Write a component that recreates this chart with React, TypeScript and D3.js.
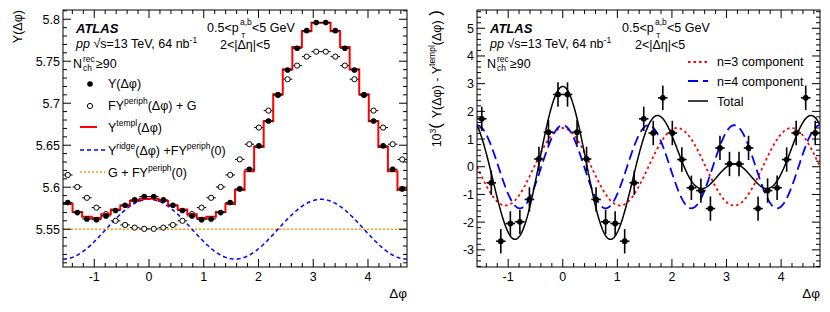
import React from "react";
import * as d3 from "d3";

const PI = Math.PI;
const N_BINS = 36;

// Y(Δφ), 36 bins of width π/18 from -π/2 to 3π/2
const yData = [
  5.5817, 5.5698, 5.5622, 5.5614, 5.5658, 5.5722, 5.5786, 5.5849, 5.5888,
  5.5888, 5.5849, 5.5786, 5.5722, 5.5658, 5.5614, 5.5622, 5.5698, 5.5817,
  5.598, 5.6214, 5.6492, 5.6789, 5.7099, 5.7396, 5.7655, 5.7864, 5.796,
  5.796, 5.7864, 5.7655, 5.7396, 5.7099, 5.6789, 5.6492, 5.6214, 5.598,
];
// F Y^periph(Δφ) + G
const periphData = [
  5.6146, 5.6003, 5.5874, 5.5757, 5.5679, 5.56, 5.5551, 5.5519, 5.5504,
  5.5504, 5.5519, 5.5551, 5.56, 5.5679, 5.5757, 5.5874, 5.6003, 5.6146,
  5.6331, 5.6512, 5.671, 5.6912, 5.7099, 5.7286, 5.7448, 5.7555, 5.7614,
  5.7614, 5.7555, 5.7448, 5.7286, 5.7099, 5.6912, 5.671, 5.6512, 5.6331,
];
// 10^3 (Y - Y^templ)
const residual = [
  1.73, -0.58, -2.69, -2.05, -1.99, -1.18, 0.28, 1.25, 2.61,
  2.61, 1.25, 0.28, -1.18, -1.99, -2.05, -2.69, -0.58, 1.73,
  1.22, 2.49, 1.22, 0.26, -0.76, -0.86, -1.51, 0.68, 0.1,
  0.1, 0.68, -1.51, -0.86, -0.76, 0.26, 1.22, 2.49, 1.22,
];
const RES_ERR = 0.44;

// fit parameters
const G_PLUS_FY0 = 5.55;
const RIDGE_AMP2 = 0.0356;
const AMP3 = 1.4;
const AMP4 = 1.5;

const xTicks = [-1, 0, 1, 2, 3, 4];
const yTicksL = [5.55, 5.6, 5.65, 5.7, 5.75, 5.8];
const yTicksR = [-3, -2, -1, 0, 1, 2, 3, 4, 5];

const FONT = "'Liberation Sans', Arial, Helvetica, sans-serif";
const FS = 12.5;
const SFS = 8.5;

const binEdges = d3.range(N_BINS + 1).map((i) => -PI / 2 + (i * PI) / 18);
const binCenters = d3.range(N_BINS).map((i) => -PI / 2 + ((i + 0.5) * PI) / 18);
const phis = d3.range(-PI / 2, (3 * PI) / 2 + 0.005, 0.01);
const templ = yData.map((v, i) => v - residual[i] / 1000);

const xL = d3.scaleLinear().domain([-PI / 2, (3 * PI) / 2]).range([63, 407]);
const yL = d3.scaleLinear().domain([5.505, 5.811]).range([267, 10]);
const xR = d3.scaleLinear().domain([-PI / 2, (3 * PI) / 2]).range([477, 820]);
const yR = d3.scaleLinear().domain([-3.62, 5.66]).range([267, 10]);

const xMinor = d3.range(-7, 24).map((k) => k * 0.2);
const yMinorL = d3.range(551, 582).map((k) => k / 100);
const yMinorR = d3.range(-18, 29).map((k) => k / 5);

function Frame({ x, y, yMajor, yMinor }: any) {
  const [x0, x1] = x.range();
  const [y1, y0] = y.range();
  return (
    <g>
      <g stroke="#000" strokeWidth={1}>
        <rect x={x0} y={y0} width={x1 - x0} height={y1 - y0} fill="none" />
        {xMinor.map((v) => {
          const len = Math.abs(v - Math.round(v)) < 1e-6 ? 8 : 4;
          return (
            <g key={"x" + v}>
              <line x1={x(v)} x2={x(v)} y1={y1} y2={y1 - len} />
              <line x1={x(v)} x2={x(v)} y1={y0} y2={y0 + len} />
            </g>
          );
        })}
        {yMinor.map((v: number) => {
          const len = yMajor.some((m: number) => Math.abs(m - v) < 1e-6) ? 8 : 4;
          return (
            <g key={"y" + v}>
              <line x1={x0} x2={x0 + len} y1={y(v)} y2={y(v)} />
              <line x1={x1} x2={x1 - len} y1={y(v)} y2={y(v)} />
            </g>
          );
        })}
      </g>
      <g fontSize={FS} fill="#000">
        {xTicks.map((v) => (
          <text key={"xl" + v} x={x(v)} y={281} textAnchor="middle">
            {v}
          </text>
        ))}
        {yMajor.map((v: number) => (
          <text key={"yl" + v} x={x0 - 3} y={y(v) + 4.5} textAnchor="end">
            {String(v)}
          </text>
        ))}
      </g>
      <text x={x1} y={298} textAnchor="end" fontSize={FS + 1}>
        Δφ
      </text>
    </g>
  );
}

function Header({ x, xr }: { x: number; xr: number }) {
  return (
    <g fontSize={FS} fill="#000">
      <text x={x} y={33} fontWeight="bold" fontStyle="italic" fontSize={13}>
        ATLAS
      </text>
      <text x={x} y={48}>
        <tspan fontStyle="italic">pp</tspan> √s=13 TeV, 64 nb
        <tspan dy={-5} fontSize={SFS}>-1</tspan>
      </text>
      <text x={x - 3} y={68}>N</text>
      <text x={x + 7} y={62} fontSize={SFS}>rec</text>
      <text x={x + 7} y={71} fontSize={SFS}>ch</text>
      <text x={x + 20} y={68}>≥90</text>
      <text x={xr} y={32}>0.5&lt;p</text>
      <text x={xr + 33} y={25} fontSize={SFS}>a,b</text>
      <text x={xr + 34} y={37.5} fontSize={7.5}>T</text>
      <text x={xr + 45} y={32}>&lt;5 GeV</text>
      <text x={xr + 13} y={49}>2&lt;|Δη|&lt;5</text>
    </g>
  );
}

export default function App() {
  const stepLine = d3
    .line<number>()
    .x((_, i) => xL(binEdges[i]))
    .y((d) => yL(d))
    .curve(d3.curveStepAfter);
  const templPath = stepLine([...templ, templ[N_BINS - 1]]) || "";

  const ridgePath =
    d3
      .line<number>()
      .x((p) => xL(p))
      .y((p) => yL(G_PLUS_FY0 + RIDGE_AMP2 * Math.cos(2 * p)))(phis) || "";

  const curveR = (f: (p: number) => number) =>
    d3
      .line<number>()
      .x((p) => xR(p))
      .y((p) => yR(f(p)))(phis) || "";
  const n3 = curveR((p) => AMP3 * Math.cos(3 * p));
  const n4 = curveR((p) => AMP4 * Math.cos(4 * p));
  const tot = curveR((p) => AMP3 * Math.cos(3 * p) + AMP4 * Math.cos(4 * p));

  const hw = (xL(PI / 18) - xL(0)) / 2;
  const hwR = (xR(PI / 18) - xR(0)) / 2;

  return (
    <svg
      width={830}
      height={312}
      style={{ position: "absolute", left: 0, top: 0, fontFamily: FONT }}
    >
      <rect width={830} height={312} fill="#fff" />

      {/* left panel */}
      <line
        x1={xL.range()[0]}
        x2={xL.range()[1]}
        y1={yL(G_PLUS_FY0)}
        y2={yL(G_PLUS_FY0)}
        stroke="#ff9900"
        strokeWidth={1.6}
        strokeDasharray="2,2"
      />
      <path d={ridgePath} fill="none" stroke="#0000ff" strokeWidth={1.5} strokeDasharray="4,3" />
      {periphData.map((v, i) => (
        <g key={"o" + i}>
          <line x1={xL(binCenters[i]) - hw} x2={xL(binCenters[i]) + hw} y1={yL(v)} y2={yL(v)} stroke="#000" />
          <circle cx={xL(binCenters[i])} cy={yL(v)} r={2.6} fill="#fff" stroke="#000" strokeWidth={1} />
        </g>
      ))}
      <path d={templPath} fill="none" stroke="#ff0000" strokeWidth={2} />
      {yData.map((v, i) => (
        <g key={"f" + i}>
          <line x1={xL(binCenters[i]) - hw} x2={xL(binCenters[i]) + hw} y1={yL(v)} y2={yL(v)} stroke="#000" />
          <circle cx={xL(binCenters[i])} cy={yL(v)} r={2.8} fill="#000" />
        </g>
      ))}
      <Frame x={xL} y={yL} yMajor={yTicksL} yMinor={yMinorL} />
      <text transform="translate(22,10) rotate(-90)" textAnchor="end" fontSize={FS}>
        Y(Δφ)
      </text>
      <Header x={76} xr={207} />

      {/* left legend */}
      <g fontSize={FS}>
        <circle cx={90} cy={84} r={2.8} fill="#000" />
        <text x={108} y={88}>Y(Δφ)</text>
        <circle cx={90} cy={106} r={2.6} fill="#fff" stroke="#000" />
        <text x={108} y={110}>
          FY<tspan dy={-6} fontSize={SFS}>periph</tspan>
          <tspan dy={6}>(Δφ) + G</tspan>
        </text>
        <line x1={80} x2={97} y1={127} y2={127} stroke="#ff0000" strokeWidth={2} />
        <text x={108} y={132}>
          Y<tspan dy={-6} fontSize={SFS}>templ</tspan>
          <tspan dy={6}>(Δφ)</tspan>
        </text>
        <line x1={80} x2={105} y1={150} y2={150} stroke="#0000ff" strokeWidth={1.5} strokeDasharray="4,3" />
        <text x={108} y={155}>
          Y<tspan dy={-6} fontSize={SFS}>ridge</tspan>
          <tspan dy={6}>(Δφ) +FY</tspan>
          <tspan dy={-6} fontSize={SFS}>periph</tspan>
          <tspan dy={6}>(0)</tspan>
        </text>
        <line x1={80} x2={105} y1={172} y2={172} stroke="#ff9900" strokeWidth={1.6} strokeDasharray="2,2" />
        <text x={108} y={177}>
          G + FY<tspan dy={-6} fontSize={SFS}>periph</tspan>
          <tspan dy={6}>(0)</tspan>
        </text>
      </g>

      {/* right panel */}
      <defs>
        <clipPath id="clipR">
          <rect x={477} y={10} width={343} height={257} />
        </clipPath>
      </defs>
      <g clipPath="url(#clipR)">
        <path d={n3} fill="none" stroke="#ff0000" strokeWidth={1.8} strokeDasharray="2.5,3" />
        <path d={n4} fill="none" stroke="#0000ff" strokeWidth={1.8} strokeDasharray="10,5" />
        <path d={tot} fill="none" stroke="#000" strokeWidth={1.5} />
        {residual.map((v, i) => {
          const cx = xR(binCenters[i]);
          return (
            <g key={"r" + i} stroke="#000" strokeWidth={1.6}>
              <line x1={cx} x2={cx} y1={yR(v - RES_ERR)} y2={yR(v + RES_ERR)} />
              <line x1={cx - hwR} x2={cx + hwR} y1={yR(v)} y2={yR(v)} />
              <circle cx={cx} cy={yR(v)} r={2.9} fill="#000" stroke="none" />
            </g>
          );
        })}
      </g>
      <Frame x={xR} y={yR} yMajor={yTicksR} yMinor={yMinorR} />
      <text transform="translate(441,10) rotate(-90)" textAnchor="end" fontSize={FS}>
        10<tspan dy={-5} fontSize={SFS}>3</tspan>
        <tspan dy={5} fontSize={17}>( </tspan>
        <tspan>Y(Δφ) - Y</tspan>
        <tspan dy={-6} fontSize={SFS}>templ</tspan>
        <tspan dy={6}>(Δφ)</tspan>
        <tspan fontSize={17}> )</tspan>
      </text>
      <Header x={490} xr={622} />

      {/* right legend */}
      <g fontSize={FS}>
        <line x1={688} x2={708} y1={62} y2={62} stroke="#ff0000" strokeWidth={1.8} strokeDasharray="2.5,3" />
        <text x={717} y={66}>n=3 component</text>
        <line x1={688} x2={708} y1={81} y2={81} stroke="#0000ff" strokeWidth={1.8} strokeDasharray="10,5" />
        <text x={717} y={86}>n=4 component</text>
        <line x1={688} x2={708} y1={101} y2={101} stroke="#000" strokeWidth={1.5} />
        <text x={717} y={106}>Total</text>
      </g>
    </svg>
  );
}
